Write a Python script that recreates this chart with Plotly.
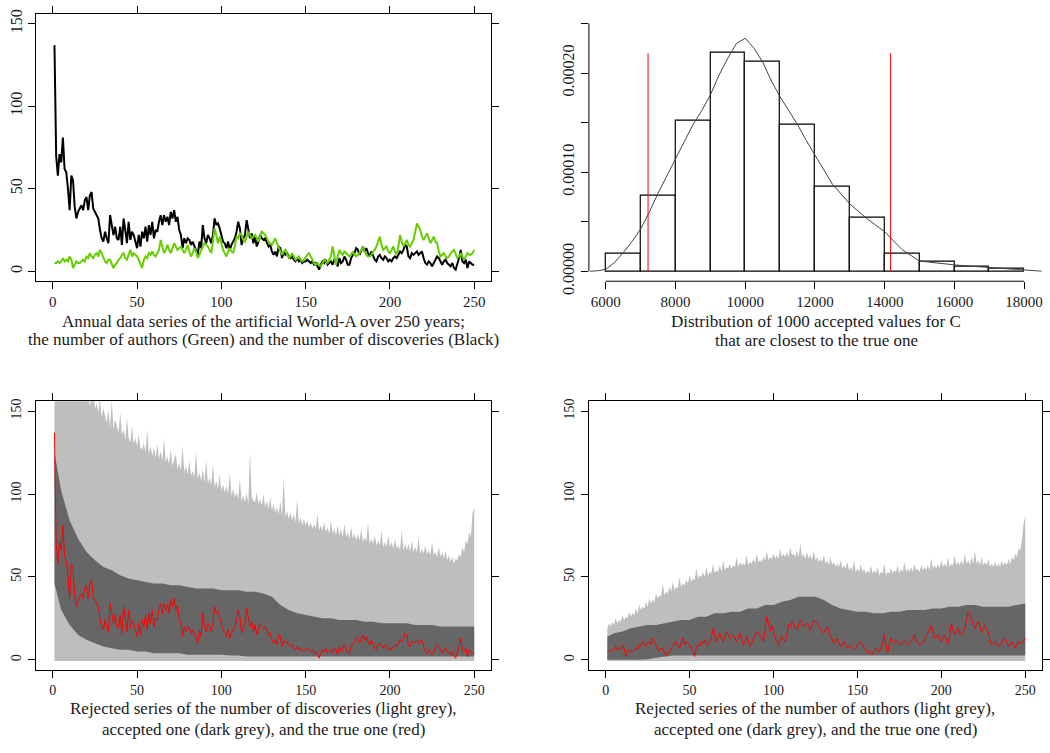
import plotly.graph_objects as go

# ---------------------------------------------------------------------------
# Data
# ---------------------------------------------------------------------------
YEARS = list(range(1, 251))

# number of discoveries per year (World-A)
DISCOVERIES = [
    137, 70, 58, 71, 66, 81, 62, 60, 50, 37, 58, 55, 39, 32, 36, 38, 40, 37, 43, 45,
    37, 46, 48, 38, 36, 34, 32, 25, 20, 18, 24, 20, 17, 34, 28, 22, 27, 20, 19, 27,
    16, 32, 25, 17, 30, 19, 24, 22, 18, 14, 22, 15, 24, 20, 27, 18, 28, 22, 30, 20,
    25, 24, 30, 34, 28, 34, 30, 33, 28, 36, 32, 37, 30, 33, 25, 22, 14, 20, 17, 20,
    19, 16, 18, 15, 12, 10, 18, 14, 28, 20, 17, 22, 20, 17, 22, 32, 28, 29, 26, 22,
    18, 17, 14, 18, 13, 16, 18, 20, 24, 30, 26, 16, 20, 22, 31, 25, 20, 23, 17, 21,
    15, 18, 22, 20, 19, 20, 17, 15, 16, 12, 10, 12, 9, 15, 14, 8, 12, 10, 11, 9,
    8, 9, 7, 6, 8, 6, 7, 5, 6, 6, 7, 6, 5, 6, 4, 5, 3, 1, 4, 6,
    5, 7, 4, 5, 6, 4, 7, 6, 3, 8, 5, 6, 9, 7, 4, 4, 8, 10, 11, 14,
    13, 10, 12, 15, 12, 14, 11, 9, 12, 10, 7, 6, 9, 10, 8, 7, 9, 8, 6, 7,
    6, 8, 9, 8, 10, 12, 11, 13, 16, 15, 9, 8, 11, 10, 11, 12, 10, 11, 12, 8,
    5, 4, 6, 5, 3, 5, 7, 9, 8, 6, 4, 6, 7, 5, 4, 3, 5, 2, 1, 4,
    8, 13, 6, 5, 7, 2, 6, 5, 4, 4,
]

# number of authors per year (World-A)
AUTHORS = [
    5, 5, 6, 5, 6, 8, 6, 7, 6, 9, 7, 2, 4, 6, 5, 5, 6, 7, 6, 9,
    8, 11, 9, 8, 10, 11, 9, 13, 11, 8, 6, 5, 7, 7, 4, 2, 4, 5, 7, 8,
    10, 11, 8, 7, 10, 13, 9, 11, 10, 9, 7, 5, 2, 7, 9, 8, 11, 10, 12, 10,
    9, 11, 13, 19, 14, 11, 13, 16, 13, 11, 14, 17, 15, 13, 14, 15, 13, 11, 13, 16,
    12, 9, 11, 14, 12, 8, 10, 13, 15, 17, 16, 15, 13, 11, 18, 26, 22, 17, 21, 16,
    13, 11, 9, 12, 14, 12, 11, 15, 21, 20, 23, 22, 19, 18, 21, 24, 22, 20, 21, 22,
    20, 18, 21, 24, 23, 22, 20, 18, 17, 16, 18, 20, 17, 14, 12, 10, 12, 13, 10, 8,
    9, 11, 9, 7, 8, 9, 7, 6, 7, 9, 10, 11, 9, 7, 5, 4, 5, 4, 3, 5,
    7, 6, 5, 7, 9, 15, 8, 4, 9, 13, 11, 10, 12, 11, 10, 9, 10, 12, 10, 9,
    10, 11, 13, 15, 12, 10, 9, 9, 10, 12, 13, 15, 18, 21, 16, 13, 14, 15, 12, 11,
    13, 15, 12, 10, 15, 22, 18, 15, 17, 19, 16, 15, 17, 19, 24, 29, 27, 25, 21, 19,
    21, 23, 20, 17, 19, 21, 18, 17, 12, 9, 10, 11, 9, 8, 9, 11, 12, 13, 10, 8,
    9, 11, 9, 7, 9, 11, 10, 10, 11, 13,
]

# per-year maximum of the rejected simulated series
DISC_REJ_MAX = [
    175, 175, 175, 175, 175, 175, 175, 175, 175, 175,
    170, 166, 172, 163, 168, 161, 170, 158, 164, 157,
    162, 153, 159, 166, 151, 155, 149, 158, 146, 152,
    147, 143, 151, 140, 157, 139, 145, 141, 137, 149,
    136, 139, 133, 146, 134, 131, 141, 130, 134, 129,
    136, 128, 127, 131, 125, 139, 124, 129, 123, 128,
    122, 130, 121, 126, 120, 134, 119, 123, 118, 127,
    117, 121, 124, 115, 119, 114, 129, 113, 117, 112,
    120, 111, 114, 110, 126, 109, 113, 108, 115, 107,
    121, 106, 110, 105, 118, 104, 108, 103, 112, 102,
    106, 101, 105, 100, 113, 99, 103, 98, 101, 97,
    109, 96, 99, 95, 101, 94, 126, 98, 96, 95,
    101, 94, 97, 93, 100, 92, 96, 91, 98, 90,
    94, 89, 92, 88, 96, 87, 110, 86, 90, 85,
    89, 84, 88, 83, 97, 82, 86, 81, 85, 81,
    84, 80, 83, 79, 82, 79, 88, 78, 81, 78,
    83, 77, 80, 76, 84, 76, 79, 75, 81, 75,
    79, 74, 82, 74, 77, 73, 80, 73, 76, 72,
    76, 72, 79, 71, 74, 71, 83, 70, 73, 70,
    75, 69, 72, 69, 78, 68, 71, 68, 75, 68,
    71, 67, 73, 67, 69, 66, 78, 66, 70, 66,
    70, 65, 72, 65, 68, 65, 74, 64, 67, 64,
    69, 64, 66, 63, 71, 63, 65, 62, 68, 62,
    65, 61, 66, 60, 63, 59, 62, 58, 61, 60,
    64, 62, 68, 65, 72, 70, 77, 74, 88, 92,
]
AUTH_REJ_MAX = [
    19, 22, 20, 23, 21, 25, 22, 24, 23, 27,
    24, 26, 25, 29, 26, 28, 27, 31, 28, 33,
    30, 32, 31, 35, 32, 37, 34, 36, 35, 40,
    37, 39, 38, 46, 39, 41, 40, 44, 41, 47,
    42, 44, 43, 50, 44, 46, 45, 48, 46, 51,
    47, 49, 48, 55, 49, 51, 50, 53, 50, 56,
    51, 53, 52, 58, 52, 54, 53, 57, 53, 60,
    54, 56, 55, 58, 55, 57, 56, 62, 56, 59,
    57, 58, 57, 63, 57, 59, 58, 61, 58, 64,
    59, 60, 59, 62, 60, 66, 60, 62, 61, 64,
    61, 63, 61, 67, 62, 64, 62, 65, 62, 68,
    63, 64, 62, 66, 62, 70, 62, 64, 61, 65,
    61, 63, 60, 66, 60, 62, 59, 61, 59, 63,
    58, 60, 57, 62, 57, 59, 56, 58, 56, 60,
    55, 57, 55, 59, 54, 56, 54, 60, 53, 55,
    53, 58, 53, 55, 52, 54, 52, 57, 52, 54,
    52, 56, 51, 53, 52, 58, 51, 53, 52, 55,
    52, 54, 53, 57, 52, 55, 53, 59, 53, 55,
    53, 56, 53, 58, 54, 55, 53, 57, 54, 56,
    54, 57, 54, 61, 55, 57, 55, 58, 55, 60,
    56, 58, 56, 62, 56, 58, 57, 63, 57, 59,
    57, 60, 57, 64, 58, 60, 57, 62, 58, 66,
    58, 60, 57, 62, 57, 59, 57, 61, 56, 58,
    56, 59, 56, 58, 56, 60, 57, 59, 57, 61,
    58, 62, 60, 64, 62, 67, 66, 72, 82, 87,
]
REJ_MIN = -0.8

# range of the accepted simulated series, every five years
ENV_YEARS = [1] + list(range(5, 251, 5))
DISC_ACC_UPPER = [
    125, 102, 84, 73, 65, 60, 56, 54, 51, 49, 48, 47, 46, 46, 45, 45, 44, 43, 43, 43,
    42, 42, 42, 41, 41, 40, 38, 33, 30, 28, 27, 26, 25, 25, 24, 24, 24, 23, 23, 22,
    22, 22, 22, 21, 21, 21, 20, 20, 20, 20, 20,
]
DISC_ACC_LOWER = [
    46, 30, 21, 15, 12, 10, 8, 7, 6, 6, 5, 5, 4, 4, 4, 4, 3, 3, 3, 3, 3, 2.5, 2.5, 2, 2,
    2, 2, 2, 2, 2, 2, 2, 2, 2, 2, 2, 2, 2, 2, 2, 2, 2, 2, 2, 2, 2, 2, 2, 2, 2, 2,
]
AUTH_ACC_UPPER = [
    14, 16, 17, 19, 20, 21, 21, 22, 23, 24, 24, 26, 26, 28, 28, 29, 29, 31, 31, 33, 33,
    35, 36, 38, 38, 38, 36, 33, 31, 30, 29, 29, 28, 28, 29, 29, 30, 30, 30, 31, 31, 32,
    32, 33, 33, 32, 32, 32, 32, 33, 34,
]
AUTH_ACC_LOWER = [
    0, 0, 0, 0, 0, 0.3, 1, 2, 2.5, 2.5, 2.5, 2.5, 2.5, 2.5, 2.5, 2.5, 2.5, 2.5, 2.5,
    2.5, 2.5, 2.5, 2.5, 2.5, 2.5, 2.5, 2.5, 2.5, 2.5, 2.5, 2.5, 2.5, 2.5, 2.5, 2.5, 2.5,
    2.5, 2.5, 2.5, 2.5, 2.5, 2.5, 2.5, 2.5, 2.5, 2.5, 2.5, 2.5, 2.5, 2.5, 2.5,
]

# accepted values for C: histogram bins (width 1000) and counts
BIN_LEFT = [6000, 7000, 8000, 9000, 10000, 11000, 12000, 13000, 14000, 15000, 16000, 17000]
BIN_COUNTS = [18, 76, 152, 220, 211, 148, 85, 54, 18, 10, 5, 3]
N_ACCEPTED = 1000
BIN_WIDTH = 1000

# kernel density estimate of the accepted C values
KDE_X = [5550, 5800, 6000, 6250, 6500, 6750, 7000, 7250, 7500, 7750, 8000, 8250, 8500,
         8750, 9000, 9250, 9500, 9750, 10000, 10250, 10500, 10750, 11000, 11250, 11500,
         11750, 12000, 12500, 13000, 13500, 14000, 14500, 15000, 15500, 16000, 16500,
         17000, 17500, 18000, 18500]
KDE_Y = [0.02e-5, 0.08e-5, 0.23e-5, 0.9e-5, 1.9e-5, 3.0e-5, 4.3e-5, 6.0e-5, 7.9e-5,
         9.6e-5, 11.4e-5, 13.1e-5, 14.8e-5, 16.2e-5, 17.8e-5, 19.8e-5, 21.5e-5, 23.0e-5,
         23.5e-5, 22.5e-5, 21.1e-5, 19.2e-5, 17.6e-5, 16.2e-5, 14.8e-5, 13.2e-5, 11.7e-5,
         8.8e-5, 6.8e-5, 5.3e-5, 4.0e-5, 2.2e-5, 1.05e-5, 0.82e-5, 0.66e-5, 0.52e-5,
         0.39e-5, 0.23e-5, 0.13e-5, 0.03e-5]

# interval bounds for C
C_BOUNDS = [7211, 14170]
BOUND_HEIGHT = 0.00022

YEAR_TICKS = [0, 50, 100, 150, 200, 250]
COUNT_TICKS = [0, 50, 100, 150]
C_TICKS = [6000, 8000, 10000, 12000, 14000, 16000, 18000]
DENS_TICKS = [0, 0.00005, 0.00010, 0.00015, 0.00020, 0.00025]
DENS_TICK_TEXT = ["0.00000", "", "0.00010", "", "0.00020", ""]

# ---------------------------------------------------------------------------
# Figure
# ---------------------------------------------------------------------------
W, H = 1050, 753
SERIF = "Liberation Serif, Times New Roman, serif"
LIGHT = "#BEBEBE"
DARK = "#666666"
TXT = "#1a1a1a"


def px_x(a, b):
    return [a / W, b / W]


def px_y(top, bottom):
    return [1 - bottom / H, 1 - top / H]


fig = go.Figure()

# --- top-left: the observed series ---
fig.add_trace(go.Scatter(x=YEARS, y=DISCOVERIES, mode="lines",
                         line=dict(color="black", width=2), xaxis="x", yaxis="y"))
fig.add_trace(go.Scatter(x=YEARS, y=AUTHORS, mode="lines",
                         line=dict(color="#66CD00", width=2), xaxis="x", yaxis="y"))


def band(xs, upper, lower, color, xa, ya):
    lo = lower if isinstance(lower, list) else [lower] * len(xs)
    return go.Scatter(x=xs + xs[::-1], y=upper + lo[::-1],
                      fill="toself", fillcolor=color, mode="lines",
                      line=dict(width=0, color=color), xaxis=xa, yaxis=ya)


# --- top-right: histogram of accepted C ---
bin_mid = [b + BIN_WIDTH / 2 for b in BIN_LEFT]
density = [c / (N_ACCEPTED * BIN_WIDTH) for c in BIN_COUNTS]
fig.add_trace(go.Bar(x=bin_mid, y=density, width=BIN_WIDTH,
                     marker=dict(color="white", line=dict(color="black", width=1.2)),
                     xaxis="x2", yaxis="y2"))
fig.add_trace(go.Scatter(x=KDE_X, y=KDE_Y, mode="lines", line=dict(color="#444", width=1),
                         xaxis="x2", yaxis="y2"))
for c in C_BOUNDS:
    fig.add_trace(go.Scatter(x=[c, c], y=[0, BOUND_HEIGHT], mode="lines",
                             line=dict(color="red", width=1), xaxis="x2", yaxis="y2"))

# --- bottom-left: discoveries ---
fig.add_trace(band(YEARS, DISC_REJ_MAX, REJ_MIN, LIGHT, "x3", "y3"))
fig.add_trace(band(ENV_YEARS, DISC_ACC_UPPER, DISC_ACC_LOWER, DARK, "x3", "y3"))
fig.add_trace(go.Scatter(x=YEARS, y=DISCOVERIES, mode="lines",
                         line=dict(color="red", width=1), xaxis="x3", yaxis="y3"))

# --- bottom-right: authors ---
fig.add_trace(band(YEARS, AUTH_REJ_MAX, REJ_MIN, LIGHT, "x4", "y4"))
fig.add_trace(band(ENV_YEARS, AUTH_ACC_UPPER, AUTH_ACC_LOWER, DARK, "x4", "y4"))
fig.add_trace(go.Scatter(x=YEARS, y=AUTHORS, mode="lines",
                         line=dict(color="red", width=1), xaxis="x4", yaxis="y4"))

tick_font = dict(family=SERIF, size=16, color=TXT)
tick_font_x = dict(family=SERIF, size=15, color=TXT)
tick_font_b = dict(family=SERIF, size=14, color=TXT)

box = dict(showline=True, mirror="ticks", linecolor="black", linewidth=1,
           ticks="outside", ticklen=7, tickcolor="black", showgrid=False,
           zeroline=False, fixedrange=True)

LEFT_X = px_x(36, 492)
RIGHT_X = px_x(590, 1044)
TOP_Y = px_y(10, 284)
BOT_Y = px_y(407, 682)

layout = dict(
    width=W, height=H, margin=dict(l=0, r=0, t=0, b=0),
    paper_bgcolor="white", plot_bgcolor="white", showlegend=False,
    bargap=0,
    xaxis=dict(domain=LEFT_X, range=[-10, 260], tickvals=YEAR_TICKS, anchor="y",
               tickfont=tick_font_x, ticklabelstandoff=0, **box),
    yaxis=dict(domain=TOP_Y, range=[-6, 156], tickvals=COUNT_TICKS, anchor="x",
               tickangle=-90, tickfont=tick_font, ticklabelstandoff=0, **box),
    xaxis2=dict(domain=RIGHT_X, range=[5513, 18514], tickvals=C_TICKS,
                ticktext=[str(v) for v in C_TICKS], anchor="y2",
                ticks="outside", ticklen=7, tickcolor="black", showline=False,
                showgrid=False, zeroline=False, tickfont=tick_font_x, ticklabelstandoff=0),
    yaxis2=dict(domain=TOP_Y, range=[-0.00000984, 0.0002597], tickvals=DENS_TICKS,
                ticktext=DENS_TICK_TEXT, anchor="x2", tickangle=-90,
                ticks="outside", ticklen=7, tickcolor="black", showline=False,
                showgrid=False, zeroline=False, tickfont=tick_font, ticklabelstandoff=0),
    xaxis3=dict(domain=LEFT_X, range=[-10, 260], tickvals=YEAR_TICKS, anchor="y3",
                tickfont=tick_font_b, ticklabelstandoff=1, **box),
    yaxis3=dict(domain=BOT_Y, range=[-6, 156], tickvals=COUNT_TICKS, anchor="x3",
                tickangle=-90, tickfont=tick_font_b, ticklabelstandoff=1, **box),
    xaxis4=dict(domain=RIGHT_X, range=[-10, 260], tickvals=YEAR_TICKS, anchor="y4",
                tickfont=tick_font_b, ticklabelstandoff=1, **box),
    yaxis4=dict(domain=BOT_Y, range=[-6, 156], tickvals=COUNT_TICKS, anchor="x4",
                tickangle=-90, tickfont=tick_font_b, ticklabelstandoff=1, **box),
)
fig.update_layout(**layout)

# R-style axis lines of the histogram, spanning only the tick range
fig.add_shape(type="line", xref="x2 domain", yref="y2", x0=0, x1=0,
              y0=DENS_TICKS[0], y1=DENS_TICKS[-1], line=dict(color="black", width=1))
fig.add_shape(type="line", xref="x2", yref="y2 domain", x0=C_TICKS[0], x1=C_TICKS[-1],
              y0=0, y1=0, line=dict(color="black", width=1))

# captions beneath each panel
captions = [
    (264, 325, "Annual data series of the artificial World-A over 250 years;"),
    (264, 344, "the number of authors (Green) and the number of discoveries (Black)"),
    (818, 325, "Distribution of 1000 accepted values for C"),
    (818, 345, "that are closest to the true one"),
    (264, 722, "Rejected series of the number of discoveries (light grey),"),
    (264, 743, "accepted one (dark grey), and the true one (red)"),
    (817, 722, "Rejected series of the number of authors (light grey),"),
    (817, 743, "accepted one (dark grey), and the true one (red)"),
]
for cx, cy, text in captions:
    fig.add_annotation(x=cx / W, y=1 - cy / H, xref="paper", yref="paper",
                       text=text, showarrow=False, xanchor="center", yanchor="middle",
                       font=dict(family=SERIF, size=17, color=TXT))

fig.write_html("out.html")
